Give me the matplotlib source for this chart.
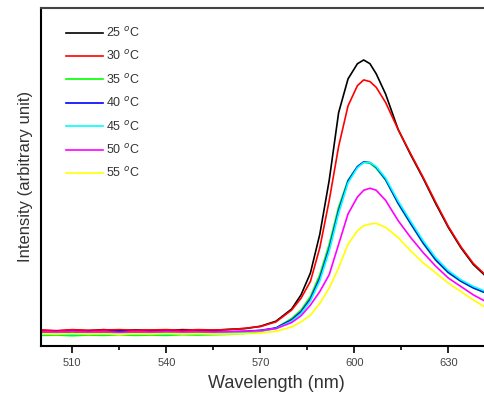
import numpy as np
import matplotlib
matplotlib.use('Agg')
import matplotlib.pyplot as plt
from matplotlib.ticker import MultipleLocator, NullLocator

plt.rcParams['font.family'] = ['Liberation Sans', 'DejaVu Sans']

# wavelength grid (nm)
wl = [500, 505, 510, 515, 520, 525, 530, 535, 540, 545, 550, 555, 560, 565, 570,
      575, 580, 583, 586, 589, 592, 595, 598, 601, 603, 605, 607, 610, 614,
      618, 622, 626, 630, 634, 638, 642, 646, 650]

# intensities (arbitrary unit), one list per temperature
i25 = [0.045, 0.043, 0.046, 0.044, 0.047, 0.044, 0.046, 0.045, 0.044, 0.047, 0.046, 0.045, 0.048, 0.050, 0.057,
       0.072, 0.108, 0.150, 0.215, 0.330, 0.490, 0.690, 0.790, 0.835, 0.846, 0.835, 0.805, 0.745, 0.640,
       0.565, 0.495, 0.420, 0.350, 0.290, 0.240, 0.205, 0.180, 0.160]
i30 = [0.046, 0.044, 0.047, 0.045, 0.046, 0.047, 0.045, 0.046, 0.047, 0.045, 0.047, 0.046, 0.047, 0.051, 0.056,
       0.070, 0.105, 0.140, 0.190, 0.290, 0.430, 0.590, 0.710, 0.770, 0.787, 0.782, 0.765, 0.720, 0.640,
       0.568, 0.498, 0.424, 0.353, 0.293, 0.243, 0.208, 0.182, 0.162]
i35 = [0.030, 0.031, 0.029, 0.031, 0.030, 0.032, 0.030, 0.031, 0.030, 0.032, 0.031, 0.032, 0.033, 0.036, 0.041,
       0.052, 0.080, 0.105, 0.145, 0.210, 0.300, 0.410, 0.490, 0.530, 0.543, 0.540, 0.525, 0.490, 0.420,
       0.360, 0.302, 0.252, 0.215, 0.190, 0.170, 0.155, 0.140, 0.130]
i40 = [0.040, 0.041, 0.039, 0.041, 0.040, 0.042, 0.040, 0.041, 0.039, 0.041, 0.040, 0.041, 0.041, 0.042, 0.045,
       0.052, 0.076, 0.100, 0.138, 0.200, 0.288, 0.400, 0.487, 0.530, 0.544, 0.542, 0.528, 0.492, 0.422,
       0.362, 0.304, 0.254, 0.217, 0.191, 0.171, 0.156, 0.141, 0.131]
i45 = [0.035, 0.036, 0.034, 0.036, 0.035, 0.037, 0.035, 0.036, 0.035, 0.037, 0.036, 0.036, 0.037, 0.039, 0.043,
       0.050, 0.072, 0.095, 0.132, 0.192, 0.280, 0.392, 0.482, 0.527, 0.542, 0.542, 0.530, 0.496, 0.428,
       0.368, 0.310, 0.260, 0.222, 0.195, 0.175, 0.160, 0.145, 0.134]
i50 = [0.041, 0.040, 0.042, 0.040, 0.041, 0.039, 0.041, 0.040, 0.042, 0.040, 0.041, 0.040, 0.041, 0.042, 0.044,
       0.050, 0.068, 0.088, 0.120, 0.160, 0.210, 0.300, 0.390, 0.440, 0.460, 0.466, 0.460, 0.430, 0.370,
       0.320, 0.275, 0.235, 0.200, 0.175, 0.150, 0.130, 0.115, 0.105]
i55 = [0.035, 0.034, 0.036, 0.034, 0.035, 0.033, 0.035, 0.034, 0.036, 0.034, 0.035, 0.034, 0.034, 0.035, 0.037,
       0.042, 0.055, 0.070, 0.090, 0.125, 0.170, 0.230, 0.300, 0.340, 0.355, 0.360, 0.362, 0.350, 0.320,
       0.280, 0.245, 0.215, 0.185, 0.160, 0.135, 0.112, 0.100, 0.090]

series = [i25, i30, i35, i40, i45, i50, i55]
labels = ['25 $^{o}$C', '30 $^{o}$C', '35 $^{o}$C', '40 $^{o}$C',
          '45 $^{o}$C', '50 $^{o}$C', '55 $^{o}$C']
colors = ['#000000', '#ff0000', '#00ff00', '#0000ff', '#00ffff', '#ff00ff', '#ffff00']

fig = plt.figure(figsize=(4.85, 3.95), dpi=100)
ax = fig.add_axes([0.0845, 0.1253, 0.969, 0.8544])

for ys, lab, col in zip(series, labels, colors):
    ax.plot(wl, ys, color=col, linewidth=1.2, label=lab)

ax.set_xlim(500, 650)
ax.set_ylim(0, 1)
ax.xaxis.set_minor_locator(MultipleLocator(15))
ax.set_xticks([510, 540, 570, 600, 630])
ax.yaxis.set_major_locator(NullLocator())
ax.tick_params(axis='x', which='major', direction='out', length=5, width=1.2,
               labelsize=8, labelcolor='#444444', pad=4)
ax.tick_params(axis='x', which='minor', direction='out', length=3, width=1.2)
ax.tick_params(top=False, right=False)

for s in ['left', 'bottom']:
    ax.spines[s].set_linewidth(1.5)
ax.spines['top'].set_linewidth(1.5)
ax.spines['top'].set_color('#444444')

ax.set_xlabel('Wavelength (nm)', fontsize=13, color='#333333', labelpad=5)
ax.set_ylabel('Intensity (arbitrary unit)', fontsize=12, color='#333333', labelpad=6)

leg = ax.legend(loc='upper left', bbox_to_anchor=(0.03, 0.98), frameon=False,
                fontsize=9, handlelength=2.9, handletextpad=0.3, labelspacing=0.75)
for t in leg.get_texts():
    t.set_color('#333333')

plt.savefig('out.png', dpi=100)
